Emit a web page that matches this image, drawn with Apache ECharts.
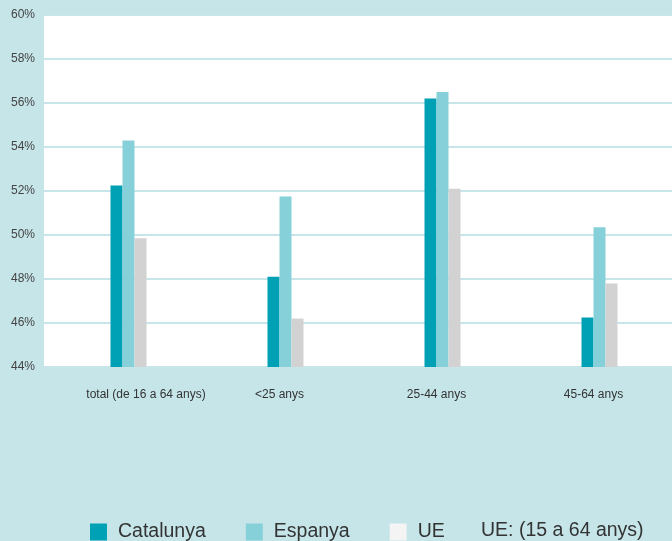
<!DOCTYPE html>
<html><head><meta charset="utf-8">
<script src="https://cdn.jsdelivr.net/npm/echarts@6/dist/echarts.min.js"></script>
<style>html,body{margin:0;padding:0;background:#c5e5e9}#c{width:672px;height:541px}</style>
</head><body><div id="c"></div>
<script>
const categories = ['total (de 16 a 64 anys)', '<25 anys', '25-44 anys', '45-64 anys'];
const catalunya = [52.25, 48.1, 56.2, 46.25];
const espanya = [54.3, 51.75, 56.5, 50.35];
const ue = [49.85, 46.2, 52.1, 47.8];
const yTicks = { min: 44, max: 60, interval: 2 };
const legendNote = 'UE: (15 a 64 anys)';

const chart = echarts.init(document.getElementById('c'), null, { renderer: 'canvas' });
chart.setOption({
  backgroundColor: '#c5e5e9',
  animation: false,
  grid: { left: 44, right: 0, top: 15, bottom: 174, show: true, backgroundColor: '#ffffff', borderWidth: 0 },
  legend: {
    left: 85, top: 517, itemWidth: 17, itemHeight: 17, itemGap: 40, icon: 'rect',
    textStyle: { color: '#333', fontSize: 19.5, padding: [0, 0, 0, 6], fontFamily: 'Liberation Sans, Arial, sans-serif' },
    data: [
      { name: 'Catalunya' },
      { name: 'Espanya' },
      { name: 'UE', itemStyle: { color: '#f4f4f4' } }
    ]
  },
  graphic: [{
    type: 'text', left: 481, top: 521,
    style: { text: legendNote, fill: '#333', font: '19.5px Liberation Sans, Arial, sans-serif' }
  }],
  xAxis: {
    type: 'category', data: categories,
    axisLine: { show: false }, axisTick: { show: false },
    axisLabel: {
      interval: 0, margin: 22, color: '#333', fontSize: 12, fontFamily: 'Liberation Sans, Arial, sans-serif',
      formatter: function (v, i) { return i === 0 ? '{a|' + v + '}' : v; },
      rich: { a: { padding: [0, 0, 0, 47], fontSize: 12, color: '#333' } }
    }
  },
  yAxis: {
    type: 'value', min: yTicks.min, max: yTicks.max, interval: yTicks.interval,
    axisLine: { show: false }, axisTick: { show: false },
    axisLabel: { formatter: '{value}%', color: '#444', fontSize: 12, margin: 9, fontFamily: 'Liberation Sans, Arial, sans-serif' },
    splitLine: { show: true, lineStyle: { color: '#c8e6ea', width: 2 } }
  },
  series: [
    { name: legendNote, type: 'bar', barWidth: 12, barGap: '0%', data: categories.map(() => null) },
    { name: 'Catalunya', type: 'bar', barWidth: 12, barGap: '0%', data: catalunya, itemStyle: { color: '#00a0b5' } },
    { name: 'Espanya', type: 'bar', barWidth: 12, barGap: '0%', data: espanya, itemStyle: { color: '#86d1d9' } },
    { name: 'UE', type: 'bar', barWidth: 12, barGap: '0%', data: ue, itemStyle: { color: '#d2d2d2' } }
  ]
});
</script></body></html>
